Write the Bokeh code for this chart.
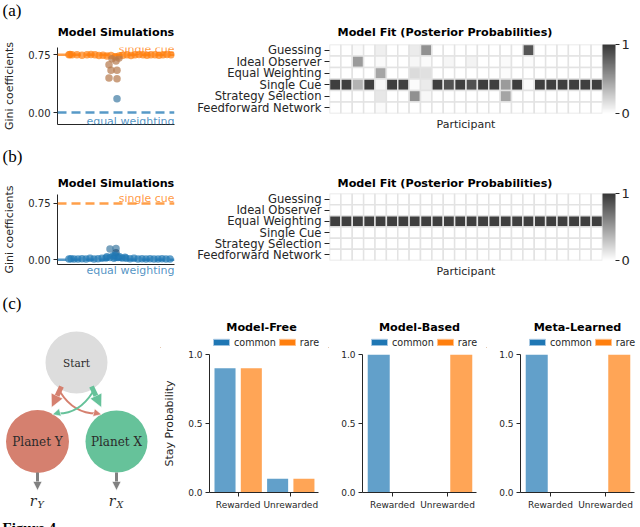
from bokeh.plotting import figure
from bokeh.layouts import column, row
from bokeh.models import (Range1d, FactorRange, FixedTicker, ColorBar, LinearColorMapper,
                          Label, Legend, LegendItem, Arrow, NormalHead, ColumnDataSource,
                          Span, PrintfTickFormatter, Title)
from bokeh.embed import file_html
from bokeh.resources import INLINE
from bokeh.core.properties import value
from bokeh.transform import dodge

# ---------------- data ----------------
models = ["Guessing", "Ideal Observer", "Equal Weighting", "Single Cue",
          "Strategy Selection", "Feedforward Network"]
participants = list(range(24))

# (a) posterior probabilities, one list per model (24 participants)
fit_a_guessing = [0, 0, .03, 0, .08, 0, 0, .10, .55, 0, 0, 0, 0, 0, 0, 0, 0, .85, 0, 0, 0, 0, 0, 0]
fit_a_ideal    = [0, 0, .50, 0, .03, 0, 0, .05, .03, 0, .05, 0, .06, 0, 0, .03, 0, .02, 0, 0, 0, 0, 0, 0]
fit_a_equal    = [0, 0, 0, 0, .45, 0, 0, .18, .16, 0, 0, 0, 0, 0, 0, .02, 0, 0, 0, 0, 0, 0, 0, 0]
fit_a_single   = [.96, .96, .38, .96, .04, .96, .96, .02, .10, .96, .86, .96, .86, .96, .96, .50,
                  .96, .02, .96, .96, .96, .96, .96, .96]
fit_a_strategy = [0, 0, 0, 0, .12, 0, 0, .55, .04, 0, 0, 0, 0, 0, 0, .45, 0, 0, 0, 0, 0, 0, 0, 0]
fit_a_ffn      = [0, 0, 0, 0, .03, 0, 0, 0, 0, 0, 0, 0, 0, 0, 0, 0, 0, 0, 0, 0, 0, 0, 0, 0]

# (b) posterior probabilities
fit_b_guessing = [0] * 24
fit_b_ideal    = [0] * 24
fit_b_equal    = [.96] * 24
fit_b_single   = [0] * 24
fit_b_strategy = [0] * 24
fit_b_ffn      = [0] * 24

# model simulations: swarm offset (px from centre), Gini coefficient, kind
sim_a_offset = [-47, -46, -44, -39, -34, -29, -25, -21, -17, -13, -9, -5, -1, 3, 7, 11, 15, 19,
                23, 27, 31, 35, 39, 43, 47, 51, 55,
                -4, 3, -7, 0, -5, 1, -7, 1, 1]
sim_a_gini = [.75, .755, .75, .75, .745, .75, .755, .75, .74, .745, .735, .74, .725, .735, .745,
              .75, .74, .75, .755, .75, .745, .75, .75, .745, .75, .755, .75,
              .70, .71, .62, .67, .55, .55, .45, .44, .18]
sim_a_kind = ["single"] * 27 + ["mixed"] * 8 + ["grayblue"]

sim_b_offset = [-47, -45, -42, -38, -34, -30, -26, -22, -18, -14, -10, -6, -2, 2, 6, 10, 14, 18,
                22, 26, 30, 34, 38, 42, 46, 50, 54,
                -6, 0, 0, -3, 3, -9, 9, -1]
sim_b_gini = [.01, .015, .01, .01, .015, .01, .02, .01, .015, .02, .025, .03, .02, .03, .025,
              .02, .015, .02, .01, .015, .01, .015, .01, .01, .015, .01, .01,
              .145, .15, .095, .05, .045, .04, .035, .06]
sim_b_kind = ["equal"] * 27 + ["grayblue", "grayblue", "darkblue"] + ["equal"] * 5

single_cue_gini = 0.75
equal_weighting_gini = 0.0

# (c) two-step task
conditions = ["Rewarded", "Unrewarded"]
agents = ["Model-Free", "Model-Based", "Meta-Learned"]
transitions = ["common", "rare"]
mf_common = [0.9, 0.1]
mf_rare = [0.9, 0.1]
mb_common = [1.0, 0.0]
mb_rare = [0.0, 1.0]
ml_common = [1.0, 0.0]
ml_rare = [0.0, 1.0]
states = ["Start", "Planet Y", "Planet X"]

SIM_TITLE = "Model Simulations"
FIT_TITLE = "Model Fit (Posterior Probabilities)"

# ---------------- style ----------------
SANS = "DejaVu Sans"
SERIF = "DejaVu Serif"
INK = "#262626"
BLUE = "#1f77b4"
ORANGE = "#ff7f0e"
KIND_COLOR = {"single": ORANGE, "mixed": "#b5784a", "grayblue": "#3f7aa3",
              "equal": BLUE, "darkblue": "#24557f"}
GRAYS = ["#%02x%02x%02x" % ((round(255 - 200 * i / 255),) * 3) for i in range(256)]


def base(width, height, **kw):
    p = figure(width=width, height=height, output_backend="svg", toolbar_location=None, **kw)
    p.outline_line_color = None
    p.background_fill_color = "white"
    p.border_fill_color = "white"
    return p


def panel_label(txt, height, yc, titles_y=None):
    p = base(640, height, x_range=Range1d(0, 640), y_range=Range1d(height, 0),
             x_axis_type=None, y_axis_type=None, min_border=0)
    p.text(x=[2], y=[yc], text=[txt], text_font=value("Liberation Serif"),
           text_font_size="17px", text_baseline="middle", text_align="left", text_color="black")
    if titles_y is not None:
        p.text(x=[115.5], y=[titles_y], text=[SIM_TITLE], text_align="center",
               text_baseline="middle", text_font=value(SANS), text_font_size="11.2px",
               text_font_style="bold", text_color="black")
        p.text(x=[337], y=[titles_y], text=[FIT_TITLE], text_align="left",
               text_baseline="middle", text_font=value(SANS), text_font_size="11.2px",
               text_font_style="bold", text_color="black")
    return p


def style_title(t, size="11.2px"):
    t.text_font = SANS
    t.text_font_size = size
    t.text_font_style = "bold"
    t.text_color = "black"


def sim_fig(offsets, gini, kinds, y_lo, y_hi, height, top, bottom, with_title, eq_below):
    p = base(180, height, x_range=Range1d(-58.5, 58.5), y_range=Range1d(y_lo, y_hi),
             min_border_left=57, min_border_right=6, min_border_top=top,
             min_border_bottom=bottom, title=SIM_TITLE if with_title else None)
    if with_title:
        style_title(p.title)
        p.title.align = "center"
        p.title.standoff = 9
    p.grid.visible = False
    ya = p.yaxis[0]
    ya.ticker = FixedTicker(ticks=[equal_weighting_gini, single_cue_gini])
    ya.formatter = PrintfTickFormatter(format="%.2f")
    ya.axis_line_color = INK
    ya.major_tick_line_color = INK
    ya.major_tick_out = 4
    ya.major_tick_in = 0
    ya.minor_tick_line_color = None
    ya.major_label_text_font = SANS
    ya.major_label_text_font_size = "10px"
    ya.major_label_text_color = INK
    ya.major_label_standoff = 3
    ya.axis_label = "Gini coefficients"
    ya.axis_label_text_font = SANS
    ya.axis_label_text_font_size = "11px"
    ya.axis_label_text_font_style = "normal"
    ya.axis_label_text_color = INK
    ya.axis_label_standoff = 9
    xa = p.xaxis[0]
    xa.ticker = FixedTicker(ticks=[])
    xa.major_tick_out = 0
    xa.major_tick_in = 0
    xa.minor_tick_line_color = None
    xa.major_label_text_font_size = "1px"
    xa.major_label_standoff = 0
    xa.axis_line_color = INK

    p.add_layout(Span(location=single_cue_gini, dimension="width", line_color=ORANGE,
                      line_alpha=0.75, line_width=2.5, line_dash="9 5"))
    p.add_layout(Span(location=equal_weighting_gini, dimension="width", line_color=BLUE,
                      line_alpha=0.75, line_width=2.5, line_dash="9 5"))
    src = ColumnDataSource(dict(x=offsets, y=gini, c=[KIND_COLOR[k] for k in kinds]))
    p.scatter(x="x", y="y", source=src, size=7.5, fill_color="c", fill_alpha=0.7, line_color=None)
    p.add_layout(Label(x=58.5, y=single_cue_gini, text="single cue", text_align="right",
                       text_baseline="alphabetic", y_offset=5, text_font=SANS,
                       text_font_size="11px", text_color=ORANGE, text_alpha=0.8))
    if eq_below:
        t = Title(text="equal weighting", align="right", text_font=SANS, text_font_size="11px",
                  text_font_style="normal", text_color=BLUE, text_alpha=0.8, standoff=-6)
        p.add_layout(t, "below")
    else:
        p.add_layout(Label(x=58.5, y=equal_weighting_gini, text="equal weighting",
                           text_align="right", text_baseline="top", y_offset=-2, text_font=SANS,
                           text_font_size="11px", text_color=BLUE, text_alpha=0.8))
    return p


def heat_fig(rows_vals, height, top, bottom, with_title):
    p = base(460, height, x_range=Range1d(-0.5, 23.5), y_range=FactorRange(factors=list(reversed(models))),
             min_border_left=149, min_border_right=38, min_border_top=top, min_border_bottom=bottom,
             title=FIT_TITLE if with_title else None)
    if with_title:
        style_title(p.title)
        p.title.align = "left"
        p.title.offset = 8
        p.title.standoff = 8
    p.grid.visible = False
    xs, ys, vs = [], [], []
    for m, vals in zip(models, rows_vals):
        for i, v in zip(participants, vals):
            xs.append(i)
            ys.append(m)
            vs.append(v)
    mapper = LinearColorMapper(palette=GRAYS, low=0, high=1)
    src = ColumnDataSource(dict(x=xs, y=ys, v=vs))
    p.rect(x="x", y="y", width=1, height=1, source=src,
           fill_color={"field": "v", "transform": mapper}, line_color="#e3e3e3", line_width=1.5)
    ya = p.yaxis[0]
    ya.axis_line_color = None
    ya.major_tick_line_color = INK
    ya.major_tick_out = 5
    ya.major_tick_in = 0
    ya.major_label_standoff = 3
    ya.major_label_text_font = SANS
    ya.major_label_text_font_size = "11.6px"
    ya.major_label_text_color = INK
    xa = p.xaxis[0]
    xa.ticker = FixedTicker(ticks=[])
    xa.axis_line_color = None
    xa.major_tick_out = 0
    xa.major_tick_in = 0
    xa.minor_tick_line_color = None
    xa.major_label_text_font_size = "1px"
    xa.major_label_standoff = 0
    xa.axis_label = "Participant"
    xa.axis_label_text_font = SANS
    xa.axis_label_text_font_size = "11px"
    xa.axis_label_text_font_style = "normal"
    xa.axis_label_text_color = INK
    xa.axis_label_standoff = 4
    cb = ColorBar(color_mapper=mapper, width=13, padding=0, margin=7,
                  ticker=FixedTicker(ticks=[0, 1]), major_label_text_font=SANS,
                  major_label_text_font_size="13px", major_label_text_color=INK,
                  major_tick_out=4, major_tick_in=0, major_tick_line_color=INK,
                  label_standoff=2, bar_line_color=None, border_line_color=None,
                  background_fill_color=None)
    p.add_layout(cb, "right")
    return p


def bar_header(name, width, frame_left):
    # title + legend strip above a bar chart; frame spans the whole strip (pixel units)
    h = base(width, 32, x_range=Range1d(0, width), y_range=Range1d(0, 32),
             x_axis_type=None, y_axis_type=None, min_border=0)
    centre = frame_left + 57
    h.text(x=[centre], y=[21], text=[name], text_align="center", text_baseline="middle",
           text_font=value(SANS), text_font_size="11.2px", text_font_style="bold", text_color="black")
    lc = h.vbar(x=[-100], top=[1], width=10, fill_color=BLUE, line_color="#a9c9e3", line_width=1)
    lr = h.vbar(x=[-100], top=[1], width=10, fill_color=ORANGE, line_color="#ffc08a", line_width=1)
    leg = Legend(items=[LegendItem(label=transitions[0], renderers=[lc]),
                        LegendItem(label=transitions[1], renderers=[lr])],
                 orientation="horizontal", location=(centre - 50, 0), padding=0, margin=0,
                 spacing=1, glyph_width=20, glyph_height=8, label_height=12,
                 label_standoff=3, label_text_font=SANS, label_text_font_size="9.6px",
                 label_text_color=INK, border_line_color=None, background_fill_alpha=0)
    h.add_layout(leg, "center")
    return column(h)


def bar_fig(common, rare, width, left, right, ylabel=None):
    p = base(width, 179, x_range=Range1d(-0.545, 1.527), y_range=Range1d(0, 1),
             min_border_left=left, min_border_right=right, min_border_top=6,
             min_border_bottom=35)
    p.grid.visible = False
    src = ColumnDataSource(dict(x=list(range(len(conditions))), common=common, rare=rare))
    p.vbar(x=dodge("x", -0.25), top="common", width=0.4, source=src,
           fill_color=BLUE, fill_alpha=0.7, line_color=None)
    p.vbar(x=dodge("x", 0.25), top="rare", width=0.4, source=src,
           fill_color=ORANGE, fill_alpha=0.7, line_color=None)
    ya = p.yaxis[0]
    ya.ticker = FixedTicker(ticks=[0, 0.5, 1.0])
    ya.formatter = PrintfTickFormatter(format="%.1f")
    xa = p.xaxis[0]
    xa.ticker = FixedTicker(ticks=list(range(len(conditions))))
    xa.major_label_overrides = {i: c for i, c in enumerate(conditions)}
    for ax in (xa, ya):
        ax.axis_line_color = INK
        ax.major_tick_line_color = INK
        ax.major_tick_out = 4
        ax.major_tick_in = 0
        ax.minor_tick_line_color = None
        ax.major_label_text_font = SANS
        ax.major_label_text_font_size = "9px"
        ax.major_label_text_color = INK
        ax.major_label_standoff = 3
    if ylabel:
        ya.axis_label = ylabel
        ya.axis_label_text_font = SANS
        ya.axis_label_text_font_size = "11px"
        ya.axis_label_text_font_style = "normal"
        ya.axis_label_text_color = INK
        ya.axis_label_standoff = 9
    return column(p)


def diagram():
    p = base(160, 211, x_range=Range1d(0, 160), y_range=Range1d(527, 316),
             x_axis_type=None, y_axis_type=None, min_border=0)
    red, green, grey = "#d5806f", "#66c29a", "#808080"
    p.quadratic(x0=[60], y0=[392], x1=[98], y1=[413], cx=[74], cy=[414], line_color=red, line_width=2)
    p.quadratic(x0=[92], y0=[392], x1=[56], y1=[413], cx=[78], cy=[414], line_color=green, line_width=2)
    for (xs, ys, xe, ye, c, w, s) in [(93, 412, 101, 414, red, 1, 8), (59, 412, 52, 414, green, 1, 8),
                                      (61, 386, 51, 407, red, 5, 13), (91, 386, 101, 407, green, 5, 13),
                                      (37, 472, 37, 490, grey, 3, 9), (116, 472, 116, 490, grey, 3, 9)]:
        p.add_layout(Arrow(end=NormalHead(size=s, fill_color=c, line_color="white", line_width=0.6),
                           x_start=xs, y_start=ys, x_end=xe, y_end=ye, line_color=c, line_width=w))
    p.circle(x=[76, 37, 116], y=[362, 441, 441], radius=[31, 31.5, 31],
             fill_color=["#dddddd", red, green], line_color=None)
    p.text(x=[76], y=[362], text=states[:1], text_align="center",
           text_baseline="middle", text_font=value(SERIF),
           text_font_size="10.5px", text_color="#2b2b2b")
    p.text(x=[37, 116], y=[441, 441], text=states[1:], text_align="center",
           text_baseline="middle", text_font=value(SERIF),
           text_font_size="12px", text_color="#2b2b2b")
    p.text(x=[36, 115], y=[500, 500], text=["r", "r"], text_align="right", text_baseline="alphabetic",
           text_font=value(SERIF), text_font_size="14px", text_font_style="italic", text_color="#2b2b2b")
    p.text(x=[37, 116], y=[504, 504], text=["Y", "X"], text_align="left", text_baseline="alphabetic",
           text_font=value(SERIF), text_font_size="9.5px", text_font_style="italic", text_color="#2b2b2b")
    p.text(x=[2], y=[519], text=["Figure 4."], text_align="left", text_baseline="top",
           text_font=value("Liberation Serif"), text_font_size="15px", text_font_style="bold",
           text_color="black")
    return p


label_a = panel_label("(a)", 38, 10, titles_y=31.5)
sim_a = sim_fig(sim_a_offset, sim_a_gini, sim_a_kind, -0.155, 0.845, 102, 9, 16, False, False)
heat_a = heat_fig([fit_a_guessing, fit_a_ideal, fit_a_equal, fit_a_single, fit_a_strategy, fit_a_ffn],
                  102, 6, 27, False)
label_b = panel_label("(b)", 30, 16)
sim_b = sim_fig(sim_b_offset, sim_b_gini, sim_b_kind, -0.062, 0.868, 110, 23, 16, True, True)
heat_b = heat_fig([fit_b_guessing, fit_b_ideal, fit_b_equal, fit_b_single, fit_b_strategy, fit_b_ffn],
                  110, 22, 20, True)
label_c = panel_label("(c)", 36, 23)
diag = diagram()
col_mf = column(bar_header(agents[0], 168, 44),
                bar_fig(mf_common, mf_rare, 168, 44, 10, ylabel="Stay Probability"))
col_mb = column(bar_header(agents[1], 158, 34), bar_fig(mb_common, mb_rare, 158, 34, 10))
col_ml = column(bar_header(agents[2], 154, 34), bar_fig(ml_common, ml_rare, 154, 34, 6))

page = column(label_a, row(column(sim_a), column(heat_a)), label_b,
              row(column(sim_b), column(heat_b)), label_c,
              row(diag, col_mf, col_mb, col_ml))

open("out.html", "w").write(file_html(page, INLINE))
